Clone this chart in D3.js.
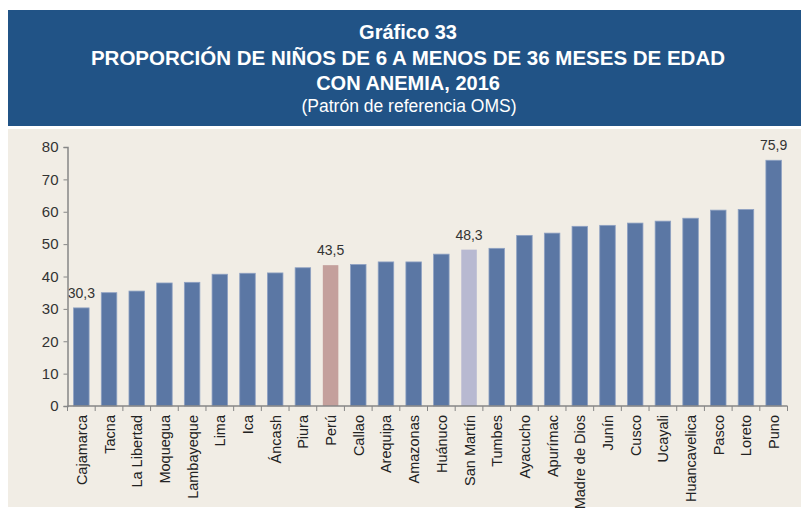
<html lang='es'>
<head>
   <meta charset='UTF-8'>
   <script src='https://d3js.org/d3.v7.min.js'></script>
   <style>
      body{
         margin: 0;
         padding: 0;
         background-color: white;
      }
      text{
         font-family: 'Liberation Sans', Arial, sans-serif;
      }
   </style>
</head>
<body>
   <div id='tavola'></div>
   <script>
   // datos
   var regiones = ['Cajamarca','Tacna','La Libertad','Moquegua','Lambayeque','Lima','Ica','Áncash','Piura','Perú',
      'Callao','Arequipa','Amazonas','Huánuco','San Martín','Tumbes','Ayacucho','Apurímac','Madre de Dios','Junín',
      'Cusco','Ucayali','Huancavelica','Pasco','Loreto','Puno'];
   var valores = [30.3,35.0,35.5,38.0,38.2,40.7,41.0,41.1,42.7,43.5,
      43.7,44.5,44.5,46.9,48.3,48.7,52.7,53.4,55.5,55.8,
      56.5,57.1,58.0,60.5,60.7,75.9];
   var etiquetados = ['Cajamarca','Perú','San Martín','Puno'];
   var yTicks = [0,10,20,30,40,50,60,70,80];
   var titulo = ['Gráfico 33','PROPORCIÓN DE NIÑOS DE 6 A MENOS DE 36 MESES DE EDAD','CON ANEMIA, 2016'];
   var subtitulo = '(Patrón de referencia OMS)';

   var W = 801, H = 512;
   var svg = d3.select('#tavola').append('svg')
      .attr('width', W)
      .attr('height', H);

   // cabecera azul
   svg.append('rect')
      .attr('x', 8).attr('y', 10)
      .attr('width', W-8).attr('height', 116)
      .attr('fill', '#215386');

   // fondo beige
   svg.append('rect')
      .attr('x', 8).attr('y', 129)
      .attr('width', W-8).attr('height', 378)
      .attr('fill', '#f1ede5');

   var yLineas = [39, 65, 90];
   titulo.forEach(function(t, i){
      svg.append('text')
         .attr('x', 408).attr('y', yLineas[i])
         .attr('text-anchor', 'middle')
         .attr('font-size', i === 1 ? '20.5px' : '20px')
         .attr('font-weight', 'bold')
         .attr('fill', 'white')
         .text(t);
   });
   svg.append('text')
      .attr('x', 409).attr('y', 112)
      .attr('text-anchor', 'middle')
      .attr('font-size', '17.5px')
      .attr('fill', 'white')
      .text(subtitulo);

   var x = d3.scaleBand()
      .domain(regiones)
      .range([67.5, 787.5])
      .padding(0);
   var anchoBarra = x.bandwidth()*0.56;

   var y = d3.scaleLinear()
      .domain([0, 80])
      .range([406, 147]);

   function colorBarra(d){
      if (d === 'Perú') return '#c4a09c';
      if (d === 'San Martín') return '#b8b9d1';
      return '#5b77a4';
   }

   // barras
   svg.append('g').selectAll('rect')
      .data(regiones)
      .enter().append('rect')
      .attr('x', function(d){ return x(d) + (x.bandwidth()-anchoBarra)/2; })
      .attr('y', function(d, i){ return y(valores[i]); })
      .attr('width', anchoBarra)
      .attr('height', function(d, i){ return y(0) - y(valores[i]); })
      .attr('fill', colorBarra)
      .attr('stroke', function(d){ return (d === 'Perú' || d === 'San Martín') ? 'none' : '#8ea1c2'; })
      .attr('stroke-width', 0.8);

   // etiquetas de valor
   svg.append('g').selectAll('text')
      .data(regiones.filter(function(d){ return etiquetados.indexOf(d) >= 0; }))
      .enter().append('text')
      .attr('x', function(d){ return x(d) + x.bandwidth()/2; })
      .attr('y', function(d){ return y(valores[regiones.indexOf(d)]) - 10; })
      .attr('text-anchor', 'middle')
      .attr('font-size', '14px')
      .attr('fill', '#333')
      .text(function(d){ return String(valores[regiones.indexOf(d)].toFixed(1)).replace('.', ','); });

   // eje y
   var ejeY = svg.append('g')
      .attr('transform', 'translate(67.5,0)')
      .call(d3.axisLeft(y).tickValues(yTicks).tickSize(4).tickPadding(5));
   ejeY.select('.domain').attr('stroke', '#868686').attr('stroke-width', 1.5);
   ejeY.selectAll('.tick line').attr('stroke', '#868686');
   ejeY.selectAll('.tick text')
      .attr('font-family', "'Liberation Sans', Arial, sans-serif")
      .attr('font-size', '15px')
      .attr('fill', '#333');

   // eje x
   var ejeX = svg.append('g');
   ejeX.append('line')
      .attr('x1', x.range()[0]).attr('x2', x.range()[1])
      .attr('y1', y(0)).attr('y2', y(0))
      .attr('stroke', '#868686').attr('stroke-width', 1.5);
   ejeX.selectAll('line.tick')
      .data(regiones.concat(['fin']))
      .enter().append('line')
      .attr('class', 'tick')
      .attr('x1', function(d){ return d === 'fin' ? x.range()[1] : x(d); })
      .attr('x2', function(d){ return d === 'fin' ? x.range()[1] : x(d); })
      .attr('y1', y(0)).attr('y2', y(0) + 5)
      .attr('stroke', '#868686');
   ejeX.selectAll('text')
      .data(regiones)
      .enter().append('text')
      .attr('transform', function(d){
         return 'translate(' + (x(d) + x.bandwidth()/2 + 5.5) + ',' + (y(0) + 9) + ') rotate(-90)';
      })
      .attr('text-anchor', 'end')
      .attr('font-size', '14.5px')
      .attr('fill', '#222')
      .text(function(d){ return d; });
   </script>
</body>
</html>
